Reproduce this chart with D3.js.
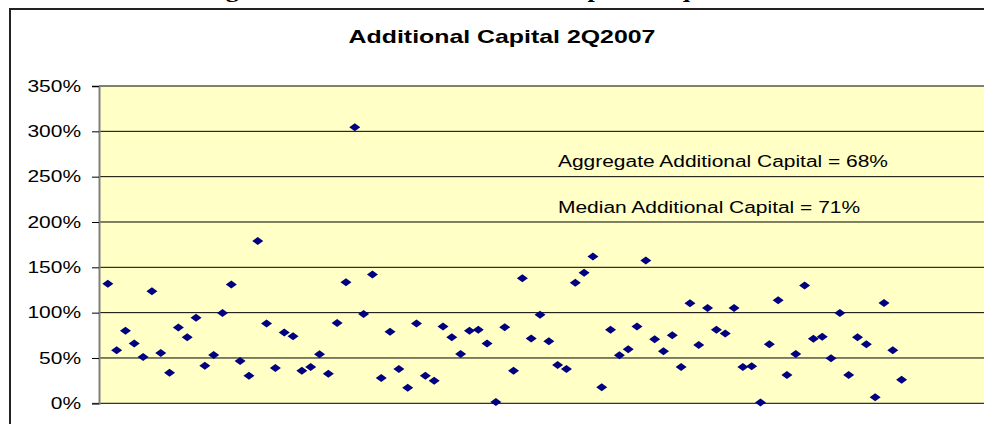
<!DOCTYPE html>
<html>
<head>
<meta charset="utf-8">
<script src="https://cdn.jsdelivr.net/npm/d3@7"></script>
<style>
  html, body { margin: 0; background: #fff; overflow: hidden; }
  svg { display: block; }
</style>
</head>
<body>
<div id="chart"></div>
<script>
// additional capital per institution, in percent
const values = [
  132, 58.5, 80, 66, 51, 123.6, 55.5, 33.8, 83.5, 72.8,
  94.5, 41.5, 53.3, 99.7, 131, 46.7, 30.5, 179, 88, 39,
  78, 74, 36, 40, 54, 32.7, 88.6, 133.5, 304.6, 98.6,
  142, 28, 79, 37.8, 17.2, 88, 30.5, 25, 84.6, 72.8,
  54.4, 80, 81, 66, 1.5, 84, 36, 138, 71.5, 97.8,
  68.4, 42.3, 37.8, 133, 144, 161.8, 17.6, 81, 53, 59.6,
  84.6, 157.4, 70.6, 57.4, 75, 40, 110.4, 64.3, 105, 81,
  77, 105, 40, 40.8, 1, 65, 113.7, 31.2, 54.4, 130,
  71.3, 73.5, 49.6, 99.7, 31.2, 72.8, 65, 6.6, 110.7, 58.5,
  26
]
const yTicks = [0, 50, 100, 150, 200, 250, 300, 350]
const notes = [
  "Aggregate Additional Capital = 68%",
  "Median Additional Capital = 71%"
]
const chartTitle = "Additional Capital 2Q2007"
const pageHeading = "Figure 2: Estimated Additional Capital Requirements"

const W = 984, H = 424
const font = "Arial, 'Liberation Sans', sans-serif"
const stretch = 1.31   // the original picture is widened horizontally

const plot = {left: 99, right: 981, top: 86, bottom: 403.3}

const svg = d3.select("#chart").append("svg")
    .attr("width", W)
    .attr("height", H)
    .attr("font-family", font)

// heading of the page, mostly cut off at the top
svg.append("text")
    .attr("transform", `translate(502,-3) scale(${stretch},1)`)
    .attr("text-anchor", "middle")
    .attr("font-family", "'Liberation Serif', 'Times New Roman', serif")
    .attr("font-weight", "bold")
    .attr("font-size", "20px")
    .attr("fill", "#000")
    .text(pageHeading)

// chart frame (runs off the right and bottom edges)
svg.append("rect")
    .attr("x", 10).attr("y", 9)
    .attr("width", W + 40).attr("height", H + 40)
    .attr("fill", "#fff")
    .attr("stroke", "#222")
    .attr("stroke-width", 2)

const x = d3.scaleLinear().domain([0, 100]).range([plot.left, plot.right])
const y = d3.scaleLinear().domain([0, 350]).range([plot.bottom, plot.top])

// plot area
svg.append("rect")
    .attr("x", plot.left).attr("y", plot.top)
    .attr("width", W - plot.left + 20)
    .attr("height", plot.bottom - plot.top)
    .attr("fill", "#FFFFC6")

// gridlines
svg.append("g")
    .selectAll("line")
    .data(yTicks)
    .join("line")
    .attr("x1", plot.left).attr("x2", W + 20)
    .attr("y1", d => y(d)).attr("y2", d => y(d))
    .attr("stroke", "#000")
    .attr("stroke-width", 1)

// y axis
const yAxis = svg.append("g")
    .attr("transform", `translate(${plot.left},0)`)
    .call(d3.axisLeft(y)
        .tickValues(yTicks)
        .tickSize(7)
        .tickFormat(d => d + "%"))

yAxis.select(".domain")
    .attr("stroke", "#808080")
    .attr("stroke-width", 2)
yAxis.selectAll(".tick line").attr("stroke", "#000")
yAxis.selectAll(".tick text")
    .attr("x", -18 / stretch)
    .attr("transform", `scale(${stretch},1)`)
    .attr("font-family", font)
    .attr("font-size", "16px")
    .attr("fill", "#000")

// title
svg.append("text")
    .attr("transform", `translate(502,43) scale(${stretch},1)`)
    .attr("text-anchor", "middle")
    .attr("font-weight", "bold")
    .attr("font-size", "19px")
    .attr("fill", "#000")
    .text(chartTitle)

// notes inside the plot
svg.append("g")
    .selectAll("text")
    .data(notes)
    .join("text")
    .attr("transform", (d, i) => `translate(558,${167 + i * 46}) scale(${stretch},1)`)
    .attr("font-size", "16px")
    .attr("fill", "#000")
    .text(d => d)

// diamond markers, wider than tall
const diamond = "M-5.5,0L0,-4L5.5,0L0,4Z"
svg.append("g")
    .selectAll("path")
    .data(values)
    .join("path")
    .attr("d", diamond)
    .attr("transform", (d, i) => `translate(${x(i + 1)},${y(d)})`)
    .attr("fill", "#000080")
</script>
</body>
</html>
